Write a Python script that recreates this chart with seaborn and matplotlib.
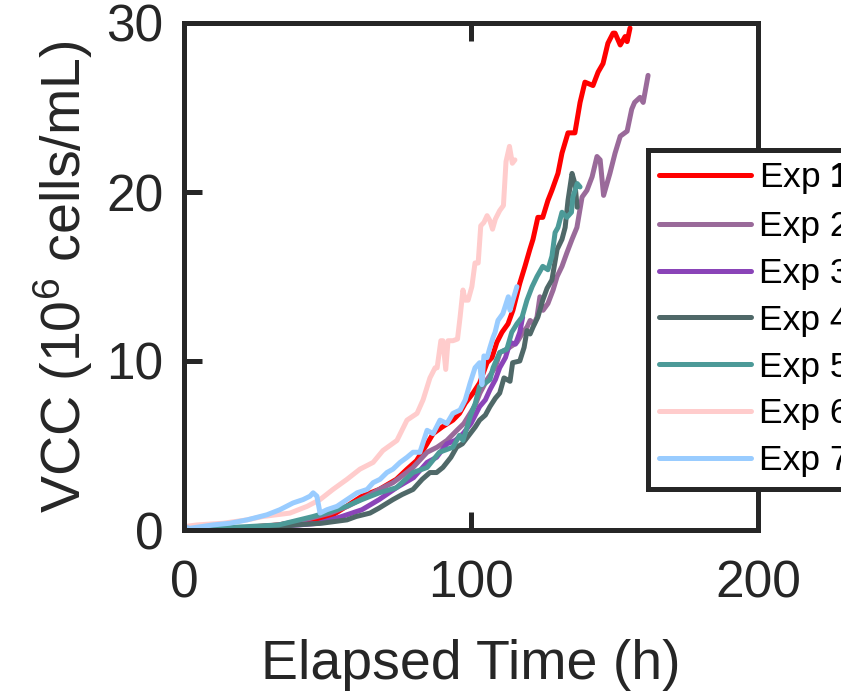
import matplotlib
matplotlib.use("Agg")
import matplotlib.pyplot as plt
import seaborn as sns
import pandas as pd
from matplotlib.lines import Line2D

# ---------------- data ----------------
exp1_t = [0, 8, 16, 25, 33, 40, 45, 51, 56.6, 62, 68, 74, 77.7, 81, 84.7, 86.8, 90, 93.7, 96, 98,
          100.7, 103, 105.6, 107.3, 109, 110.8, 112.9, 114.6, 117, 118.8, 120.5, 121.6, 123.3, 125,
          126.8, 128.2, 130.3, 131.7, 133.8, 136.2, 138, 139.7, 142.5, 144.3, 146, 147.7, 149.5,
          150.2, 152, 153.7, 154.4, 155.4]
exp1_v = [0.1, 0.0, 0.0, 0.2, 0.3, 0.5, 0.6, 0.8, 1.4, 2.0, 2.4, 3.0, 3.6, 4.1, 5.1, 5.7, 6.1, 6.5,
          6.9, 7.5, 8.1, 8.7, 9.9, 10.2, 11.1, 11.7, 12.2, 13.0, 14.6, 15.6, 16.6, 17.2, 18.5, 18.5,
          19.5, 20.1, 21.1, 22.3, 23.5, 23.5, 25.3, 26.5, 26.3, 27.1, 27.6, 28.8, 29.4, 29.4, 28.7,
          29.2, 28.9, 29.7]

exp2_t = [0, 10, 20, 33, 42, 50.9, 57, 63.8, 68, 72.8, 76, 79.8, 84.7, 88.2, 91.6, 95.1, 97.5,
          99.7, 101.5, 103.1, 105.6, 108.4, 110.1, 112.5, 116, 118.1, 119.5, 120.6, 122, 123, 124,
          125.1, 126.8, 128.6, 130, 131.7, 133.4, 135.2, 136.9, 138.7, 140.4, 142.2, 143.9, 145,
          146.2, 148.4, 150.2, 152, 154.4, 156, 157, 158.9, 160, 161.7]
exp2_v = [0.2, 0.1, 0.1, 0.3, 0.6, 1.0, 1.4, 2.0, 2.4, 2.8, 3.2, 3.7, 4.6, 4.9, 5.3, 5.9, 6.3, 6.9,
          7.4, 8.1, 8.9, 9.6, 10.5, 10.7, 11.1, 11.7, 12.0, 12.4, 12.2, 12.6, 13.8, 13.0, 13.4, 14.2,
          15.0, 15.6, 16.4, 17.2, 17.9, 19.7, 20.1, 20.9, 22.1, 21.9, 19.8, 21.1, 22.3, 23.3, 23.6,
          24.9, 25.3, 25.6, 25.3, 26.9]

exp3_t = [0, 10, 20, 30, 40, 47, 55, 62, 68, 74, 80, 84.7, 88, 91.6, 94.5, 97.2, 100, 103, 105,
          106.6, 108.5, 110, 112, 113.6, 115.5, 117, 118]
exp3_v = [0.0, 0.0, 0.0, 0.2, 0.3, 0.4, 0.8, 1.2, 1.8, 2.5, 3.1, 4.0, 4.3, 5.1, 5.3, 5.7, 6.3, 7.3,
          7.7, 8.3, 8.9, 9.6, 10.2, 11.1, 11.0, 11.7, 12.6]

exp4_t = [0, 16, 28, 39, 48, 56.8, 60, 64.8, 68, 72.8, 76, 79.8, 83, 85.7, 88, 90.2, 93, 95, 97,
          99.7, 101.5, 103, 105, 106.6, 108.5, 110, 111.5, 113.6, 114.5, 117, 118.5, 119.5, 120.6,
          121.6, 123.3, 125, 126.5, 128.2, 130, 131.7, 132.8, 133.8, 135.2, 136.2, 137]
exp4_v = [0.1, 0.0, 0.1, 0.3, 0.4, 0.6, 0.8, 1.0, 1.3, 1.8, 2.1, 2.4, 3.0, 3.4, 3.4, 3.7, 4.3, 4.9,
          5.1, 5.7, 6.1, 6.5, 6.8, 7.3, 7.8, 8.1, 9.0, 8.8, 9.9, 10.0, 10.8, 11.8, 11.6, 12.0, 12.6,
          13.6, 14.3, 14.8, 16.6, 17.2, 17.9, 19.5, 21.1, 20.5, 19.1]

exp5_t = [0, 10, 22, 33, 45, 51, 56.6, 62, 68, 74, 79.8, 84.7, 89, 93.7, 96, 97.2, 98.5, 99.7,
          101.5, 103, 105, 106.6, 107.7, 110, 112.5, 114.2, 116, 117.8, 119.5, 121.3, 123, 125,
          126.8, 128.2, 129.3, 130.3, 131.7, 133.4, 135, 135.5, 137, 138]
exp5_v = [0.2, 0.1, 0.2, 0.3, 0.8, 1.1, 1.4, 1.8, 2.2, 2.5, 3.4, 3.7, 4.6, 4.9, 5.6, 5.3, 6.0, 6.7,
          7.5, 8.5, 8.7, 8.9, 9.6, 10.5, 10.7, 11.7, 12.2, 12.6, 13.6, 14.4, 15.0, 15.6, 15.4, 16.2,
          17.6, 17.9, 18.8, 18.5, 18.8, 19.7, 20.5, 20.3]

exp6_t = [0, 4.5, 13.6, 22, 27.5, 36.9, 42.9, 47.4, 51.9, 56.8, 61.3, 65.9, 69.3, 74.2, 77.7, 81.2,
          83.3, 85.7, 87.5, 88.2, 89.5, 90.2, 91.2, 92, 93.7, 95.3, 96.2, 97.2, 98, 99, 100.3, 101.4,
          102.5, 103.4, 104.5, 105.6, 106.6, 107.5, 108.5, 110, 111.3, 112.2, 113.4, 114.4, 115.3]
exp6_v = [0.2, 0.3, 0.4, 0.6, 0.8, 1.0, 1.4, 1.8, 2.4, 3.0, 3.6, 4.0, 4.7, 5.3, 6.5, 6.9, 7.7, 9.0,
          9.6, 9.6, 11.2, 11.2, 9.5, 11.2, 11.2, 11.3, 12.6, 14.2, 13.6, 13.6, 14.4, 15.8, 15.8, 18.0,
          18.2, 18.6, 18.3, 17.8, 18.4, 18.9, 19.2, 21.8, 22.7, 21.7, 21.9]

exp7_t = [0, 2, 10.1, 16, 22, 28.9, 33.4, 38, 41.5, 43.9, 45, 46.3, 47.4, 49.8, 53.3, 56.8, 60.3,
          63.8, 65.9, 68.3, 70.7, 72.8, 75.3, 77.7, 79.8, 82.2, 84.7, 86.8, 89.2, 91.6, 93.7, 96.2,
          98, 99.7, 101.4, 103, 103.8, 104.5, 105.6, 106.6, 107.7, 108.4, 109.4, 111.1, 113, 113.6,
          114.6, 116]
exp7_v = [0.2, 0.1, 0.3, 0.4, 0.6, 0.9, 1.2, 1.6, 1.8, 2.0, 2.2, 2.0, 1.0, 1.2, 1.4, 1.8, 2.2, 2.4,
          2.8, 3.0, 3.4, 3.6, 4.0, 4.3, 4.6, 4.6, 5.9, 5.7, 6.5, 6.3, 6.9, 7.1, 7.7, 8.7, 9.6, 9.9,
          8.6, 10.3, 10.2, 10.8, 11.4, 11.7, 12.4, 12.8, 13.8, 13.0, 13.6, 14.4]

exp_names = ["Exp 1", "Exp 2", "Exp 3", "Exp 4", "Exp 5", "Exp 6", "Exp 7"]
legend_labels = ["Exp $\\mathbf{1}$", "Exp 2", "Exp 3", "Exp 4", "Exp 5", "Exp 6", "Exp 7"]
colors = ["#FF0000", "#9A6A9A", "#8A44B8", "#4F6868", "#4C9A98", "#FFCCCC", "#99CCFF"]
x_ticks = [0, 100, 200]
y_ticks = [0, 10, 20, 30]

series_t = [exp1_t, exp2_t, exp3_t, exp4_t, exp5_t, exp6_t, exp7_t]
series_v = [exp1_v, exp2_v, exp3_v, exp4_v, exp5_v, exp6_v, exp7_v]
rows = []
for name, ts, vs in zip(exp_names, series_t, series_v):
    for t, v in zip(ts, vs):
        rows.append({"Experiment": name, "Time": t, "VCC": v})
df = pd.DataFrame(rows)

# ---------------- style ----------------
sns.set_theme(style="ticks")
TXT = "#262626"
plt.rcParams["font.family"] = ["Liberation Sans", "DejaVu Sans"]
plt.rcParams["mathtext.fontset"] = "custom"
plt.rcParams["mathtext.rm"] = "Liberation Sans"
plt.rcParams["mathtext.bf"] = "Liberation Sans:bold"
plt.rcParams["mathtext.default"] = "regular"

fig = plt.figure(figsize=(8.41, 6.93), dpi=100)
ax = fig.add_axes([184 / 841, 1 - 530 / 693, (758 - 184) / 841, (530 - 23) / 693])

sns.lineplot(data=df, x="Time", y="VCC", hue="Experiment", hue_order=exp_names,
             palette=dict(zip(exp_names, colors)), estimator=None, sort=False,
             linewidth=3.6, ax=ax, legend=False)

ax.set_xlim(0, 200)
ax.set_ylim(0, 30)
ax.set_xticks(x_ticks)
ax.set_yticks(y_ticks)
ax.set_xlabel("Elapsed Time (h)", fontsize=40, color=TXT, labelpad=22)
ax.set_ylabel("VCC (10$^6$ cells/mL)", fontsize=40, color=TXT, labelpad=8)
ax.tick_params(axis="both", which="major", direction="in", length=13, width=3.6,
               labelsize=37, colors=TXT, top=True, right=True)
ax.tick_params(axis="x", pad=21)
ax.tick_params(axis="y", pad=15)
for sp in ax.spines.values():
    sp.set_visible(True)
    sp.set_linewidth(3.6)
    sp.set_color(TXT)

# legend
handles = [Line2D([0], [0], color=c, lw=3.6) for c in colors]
leg = ax.legend(handles, legend_labels, loc="upper left",
                bbox_to_anchor=(648 / 841, 1 - 150 / 693), bbox_transform=fig.transFigure,
                fontsize=25.5, frameon=True, fancybox=False, framealpha=1,
                handlelength=2.6, handletextpad=0.22, borderpad=0.32, labelspacing=0.39,
                borderaxespad=0)
leg.get_frame().set_edgecolor(TXT)
leg.get_frame().set_linewidth(3.6)
for t in leg.get_texts():
    t.set_color("black")

fig.savefig("out.png", dpi=100)
